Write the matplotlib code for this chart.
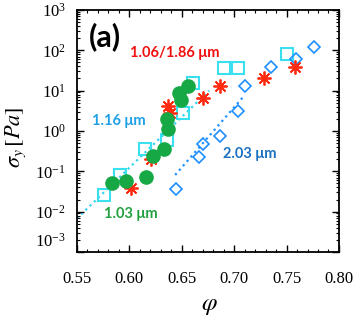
import matplotlib
matplotlib.use("Agg")
import matplotlib.pyplot as plt
from matplotlib.ticker import LogLocator, MultipleLocator, NullFormatter, FixedLocator
from matplotlib.transforms import ScaledTranslation

plt.rcParams['font.family'] = 'serif'
plt.rcParams['font.serif'] = ['Liberation Serif', 'DejaVu Serif']
plt.rcParams['mathtext.fontset'] = 'stix'

# 1.03 um (green circles)
phi_103 = [0.5835, 0.5968, 0.6155, 0.6227, 0.6329, 0.6370, 0.6359, 0.6492, 0.6477, 0.6556]
sig_103 = [0.051, 0.058, 0.074, 0.24, 0.35, 1.13, 1.98, 6.0, 8.7, 13.3]

# 1.16 um (cyan squares)
phi_116 = [0.5753, 0.5911, 0.6153, 0.6356, 0.6516, 0.6609, 0.6900, 0.7037, 0.7503]
sig_116 = [0.026, 0.080, 0.35, 0.60, 2.84, 15.7, 35.8, 35.8, 81.0]

# 1.06/1.86 um (red asterisks)
phi_106 = [0.6011, 0.6203, 0.6370, 0.6384, 0.6700, 0.6867, 0.7283, 0.7580]
sig_106 = [0.039, 0.20, 4.05, 2.79, 6.6, 13.1, 20.2, 39.3]

# 2.03 um (blue diamonds)
phi_203 = [0.6442, 0.6668, 0.6707, 0.6869, 0.7032, 0.7101, 0.7347, 0.7586, 0.7761]
sig_203 = [0.036, 0.226, 0.475, 0.75, 3.13, 13.3, 39.3, 61.0, 121.0]

# dotted fit lines (endpoints)
fit116_phi = [0.550, 0.676]
fit116_sig = [0.0068, 10.0]
fit203_phi = [0.6437, 0.7102]
fit203_sig = [0.081, 7.8]

x_ticks = [0.55, 0.60, 0.65, 0.70, 0.75, 0.80]
x_ticklabels = ['0.55', '0.60', '0.65', '0.70', '0.75', '0.80']
y_ticks = [1e-3, 1e-2, 1e-1, 1e0, 1e1, 1e2, 1e3]

fig = plt.figure(figsize=(3.54, 3.21), dpi=100)
ax = fig.add_axes([0.2175, 0.215, 0.740, 0.754])

c_green = '#17a846'
c_cyan = '#3ae0f0'
c_red = '#ff2a10'
c_blue = '#1e8fff'

ax.plot(fit116_phi, fit116_sig, ':', color='#30d4f0', lw=1.6, zorder=1)
ax.plot(fit203_phi, fit203_sig, ':', color='#2090ff', lw=1.6, zorder=1)

ax.plot(phi_116, sig_116, 's', mfc='none', mec=c_cyan, mew=1.5, ms=8.5, ls='none', zorder=2)
ax.plot(phi_203, sig_203, 'D', mfc='none', mec=c_blue, mew=1.2, ms=6.5, ls='none', zorder=2)
ax.plot(phi_106, sig_106, marker=(8, 2, 0), mec=c_red, mew=1.3, ms=10, ls='none', zorder=3)
ax.plot(phi_103, sig_103, 'o', mfc=c_green, mec=c_green, ms=9.5, ls='none', zorder=4)

ax.set_yscale('log')
ax.set_xlim(0.55, 0.80)
ax.set_ylim(1e-3, 1e3)
ax.set_xticks(x_ticks)
ax.set_xticklabels(x_ticklabels)
ax.xaxis.set_minor_locator(MultipleLocator(0.01))
ax.yaxis.set_major_locator(FixedLocator(y_ticks))
ax.yaxis.set_minor_locator(LogLocator(base=10, subs=[2, 3, 4, 5, 6, 7, 8, 9], numticks=20))
ax.yaxis.set_minor_formatter(NullFormatter())

ax.tick_params(which='both', direction='in', top=True, right=True, labelsize=12, colors='black')
ax.tick_params(which='major', length=5, width=1)
ax.tick_params(which='minor', length=2.5, width=0.8)
ax.tick_params(axis='x', which='major', pad=14)
ax.tick_params(axis='y', which='major', pad=8)
for s in ax.spines.values():
    s.set_linewidth(1.3)

ax.set_xlabel(r'$\varphi$', fontsize=18)
ax.set_ylabel(r'$\sigma_y\,[Pa]$', fontsize=16)
ax.xaxis.set_label_coords(0.507, -0.178)
ax.yaxis.set_label_coords(-0.187, 0.475)

# raise the lowest y tick label (as in the reference)
yt = ax.yaxis.get_major_ticks()
yt[0].label1.set_transform(yt[0].label1.get_transform() + ScaledTranslation(0, 9 / 72, fig.dpi_scale_trans))

tf = ['Lato', 'DejaVu Sans']
ax.text(0.5763, 214, '(a)', fontsize=22, fontweight='bold', family=tf, color='black', ha='center', va='center')
ax.text(0.6002, 86, '1.06/1.86 μm', fontsize=10.5, fontweight='bold', family=tf, color='#f01010', ha='left', va='center')
ax.text(0.5639, 1.77, '1.16 μm', fontsize=10.5, fontweight='bold', family=tf, color='#1ea0e6', ha='left', va='center')
ax.text(0.689, 0.27, '2.03 μm', fontsize=10.5, fontweight='bold', family=tf, color='#1a70c0', ha='left', va='center')
ax.text(0.5753, 0.00875, '1.03 μm', fontsize=10.5, fontweight='bold', family=tf, color='#22a040', ha='left', va='center')

fig.savefig('out.png', dpi=100)
